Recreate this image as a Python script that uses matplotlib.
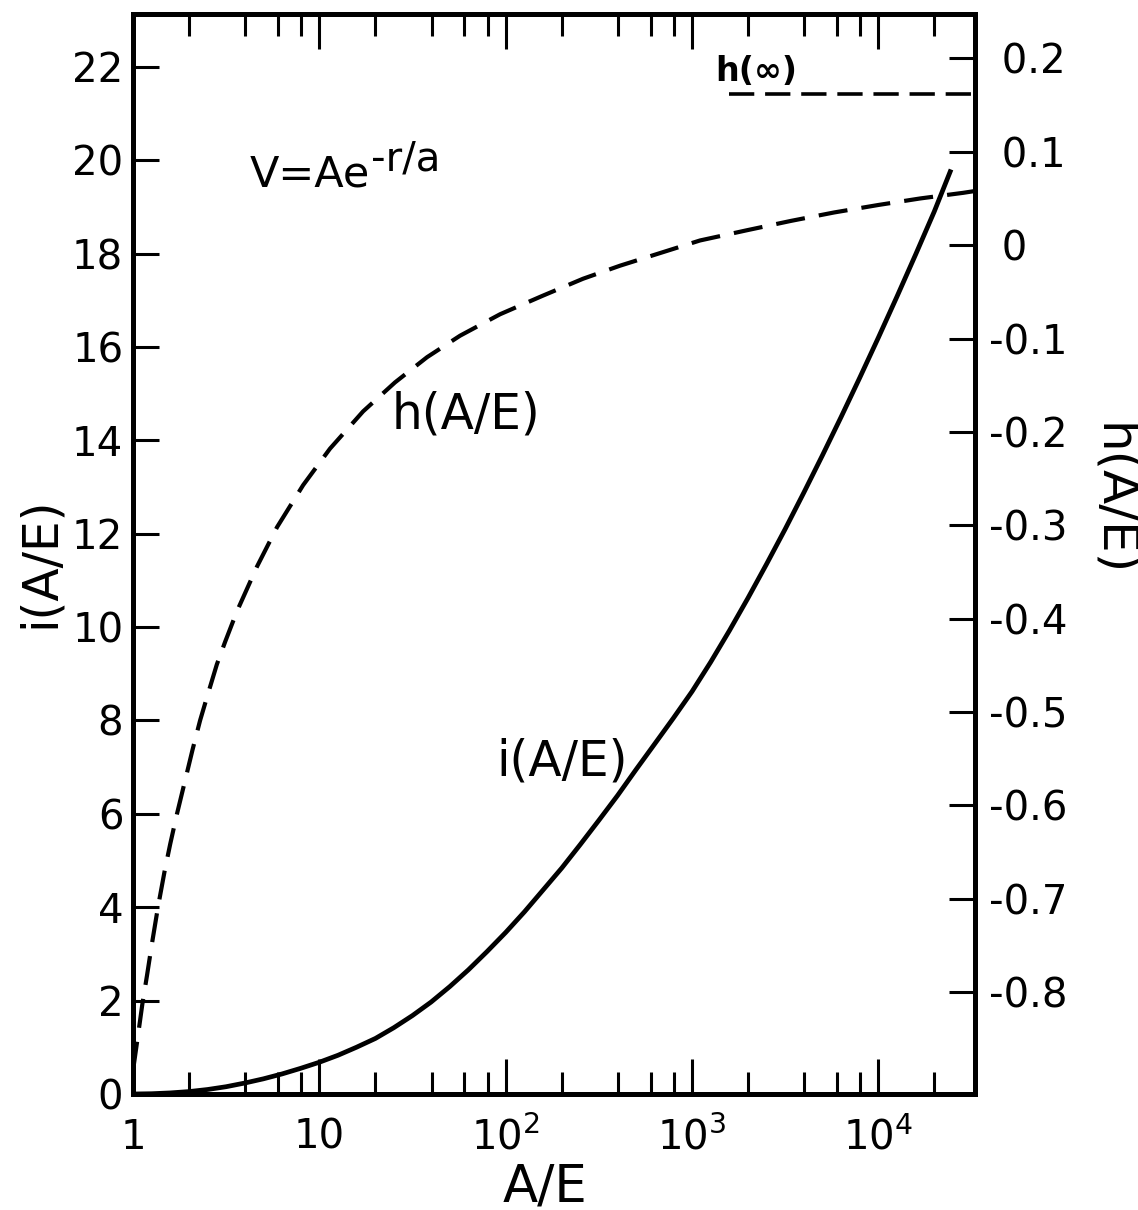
import matplotlib
matplotlib.use("Agg")
import matplotlib.pyplot as plt
from matplotlib.ticker import FixedLocator, FixedFormatter, LogLocator, NullFormatter

plt.rcParams["font.family"] = ["DejaVu Sans"]
plt.rcParams["mathtext.default"] = "regular"

# i(A/E): solid curve, left axis
ae_i = [1, 1.26, 1.58, 2, 2.51, 3.16, 3.98, 5.01, 6.31, 7.94,
        10, 12.6, 15.8, 20, 25.1, 31.6, 39.8, 50.1, 63.1, 79.4,
        100, 126, 158, 200, 251, 316, 398, 501, 631, 794,
        1000, 1259, 1585, 1995, 2512, 3162, 3981, 5012, 6310, 7943,
        10000, 12589, 15849, 19953, 24547]
i_val = [0, 0.006, 0.023, 0.052, 0.096, 0.156, 0.235, 0.325, 0.43, 0.55,
         0.68, 0.83, 1.00, 1.19, 1.42, 1.68, 1.97, 2.30, 2.66, 3.05,
         3.46, 3.90, 4.36, 4.84, 5.34, 5.86, 6.39, 6.95, 7.50, 8.05,
         8.62, 9.25, 9.92, 10.62, 11.35, 12.10, 12.88, 13.68, 14.50, 15.34,
         16.20, 17.08, 17.98, 18.90, 19.80]

# h(A/E): dashed curve, right axis
ae_h = [1, 1.059, 1.122, 1.189, 1.259, 1.361, 1.479, 1.585, 1.722, 1.905,
        2.089, 2.291, 2.512, 2.818, 3.119, 3.614, 4.634, 5.929, 8.185, 11.40,
        17.18, 25.47, 37.84, 56.89, 93.33, 156.7, 260.0, 411.1, 1104, 1977,
        3404, 5794, 10000, 16788, 28510, 33113]
h_val = [-0.884, -0.849, -0.813, -0.782, -0.750, -0.709, -0.670, -0.641,
         -0.609, -0.573, -0.540, -0.509, -0.482, -0.449, -0.425, -0.392,
         -0.344, -0.302, -0.257, -0.218, -0.178, -0.147, -0.120, -0.097,
         -0.074, -0.0545, -0.036, -0.022, 0.005, 0.016, 0.026, 0.035,
         0.043, 0.050, 0.056, 0.058]

h_inf = 0.162

i_ticks = [0, 2, 4, 6, 8, 10, 12, 14, 16, 18, 20, 22]
h_ticks = [0.2, 0.1, 0, -0.1, -0.2, -0.3, -0.4, -0.5, -0.6, -0.7, -0.8]
h_tick_labels = ["0.2", "0.1", "0", "-0.1", "-0.2", "-0.3", "-0.4", "-0.5",
                 "-0.6", "-0.7", "-0.8"]
x_ticks = [1, 10, 100, 1000, 10000]
x_tick_labels = ["1", "10", "$10^{2}$", "$10^{3}$", "$10^{4}$"]

# axis ranges; h = 0.05 * (i - i_at_h0)
i_lim = (0, 23.13)
i_at_h0 = 18.18
h_lim = ((i_lim[0] - i_at_h0) * 0.05, (i_lim[1] - i_at_h0) * 0.05)
x_lim = (1, 3.3e4)

W, H = 1138, 1210
fig = plt.figure(figsize=(W / 100, H / 100), dpi=100)
fig.patch.set_facecolor("white")
ax = fig.add_axes([133 / W, 1 - 1094 / H, (975 - 133) / W, (1094 - 14) / H])

ax.set_xscale("log")
ax.set_xlim(*x_lim)
ax.set_ylim(*i_lim)

lw_frame = 3.6
for s in ax.spines.values():
    s.set_linewidth(lw_frame)

ax.plot(ae_i, i_val, color="black", lw=3.4, solid_capstyle="butt",
        solid_joinstyle="round", zorder=3)

ax2 = ax.twinx()
ax2.set_ylim(*h_lim)
for s in ax2.spines.values():
    s.set_linewidth(lw_frame)
ax2.plot(ae_h, h_val, color="black", lw=3.0, dashes=(7, 3.4), zorder=3)
ax2.plot([1570, x_lim[1]], [h_inf, h_inf], color="black", lw=2.6,
         dashes=(7, 3.0))

# x axis ticks, drawn inward on bottom and top
ax.xaxis.set_major_locator(FixedLocator(x_ticks))
ax.xaxis.set_major_formatter(FixedFormatter(x_tick_labels))
ax.xaxis.set_minor_locator(LogLocator(base=10, subs=(2, 4, 6, 8)))
ax.xaxis.set_minor_formatter(NullFormatter())
ax.tick_params(axis="x", which="major", direction="in", top=True, bottom=True,
               length=25, width=2.2, labelsize=29, pad=17)
ax.tick_params(axis="x", which="minor", direction="in", top=True, bottom=True,
               length=16, width=2.2)

ax.yaxis.set_major_locator(FixedLocator(i_ticks))
ax.tick_params(axis="y", which="major", direction="in", left=True, right=False,
               length=19, width=2.2, labelsize=29, pad=7)
ax.tick_params(axis="y", which="minor", left=False, right=False)

ax2.yaxis.set_major_locator(FixedLocator(h_ticks))
ax2.yaxis.set_major_formatter(FixedFormatter(
    [lbl if lbl.startswith("-") else " " + lbl for lbl in h_tick_labels]))
ax2.tick_params(axis="y", which="major", direction="in", right=True,
                left=False, length=19, width=2.2, labelsize=29, pad=10)
ax2.tick_params(axis="y", which="minor", left=False, right=False)

# potential formula with a full-size raised exponent
ax.text(4.24, 19.44, "V=Ae", fontsize=31, ha="left", va="baseline")
ax.text(18.9, 19.78, "-r/a", fontsize=29, ha="left", va="baseline")

# curve labels
ax.text(24.5, 14.56, "h(A/E)", fontsize=35, ha="left", va="center")
ax.text(89.5, 7.13, "i(A/E)", fontsize=35, ha="left", va="center")
ax2.text(1340, 0.186, "h(\u221e)", fontsize=24, fontweight="bold",
         ha="left", va="center")

# axis titles
fig.text(40 / W, 1 - 562 / H, "i(A/E)", fontsize=35, rotation=90,
         ha="center", va="center")
fig.text(1113 / W, 1 - 500 / H, "h(A/E)", fontsize=36, rotation=-90,
         ha="center", va="center")
fig.text(545 / W, 1 - 1187 / H, "A/E", fontsize=37, ha="center", va="center")

fig.savefig("out.png", dpi=100, facecolor="white")
